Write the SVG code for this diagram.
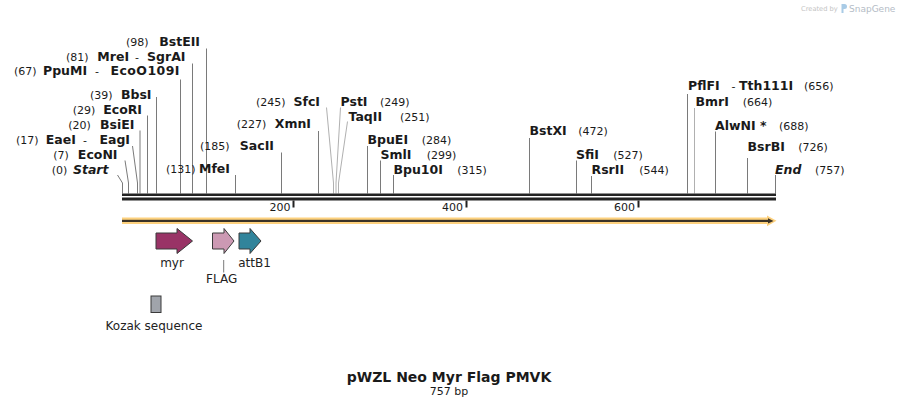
<svg xmlns="http://www.w3.org/2000/svg" width="898" height="407" viewBox="0 0 898 407">
<style>
text{font-family:"DejaVu Sans",Verdana,sans-serif;fill:#1a1a1a}
.num{font-size:11px}
.nm{font-size:12.5px;font-weight:bold}
.it{font-style:italic}
.e{text-anchor:end}
.c{text-anchor:middle}
.ld{stroke:#7a7a7a;stroke-width:1;fill:none}
.ll{stroke:#b0b0b0;stroke-width:1;fill:none}
.feat{stroke:#3a3a3a;stroke-width:1}
.fl{font-size:12px;fill:#222}
</style>
<rect width="898" height="407" fill="#ffffff"/>

<g id="watermark">
<text x="801" y="11" style="font-size:6.7px;fill:#c4c4c4">Created by</text>
<path d="M841.5 4 h3 a2.5 2.5 0 0 1 0 5 h-1 v4 h-2 z" fill="#a9cbe6"/>
<text x="849" y="11.5" style="font-size:9px;fill:#b4bcc6">SnapGene</text>
</g>

<g id="connectors">
<path class="ld" d="M117.5 175 L122.5 183 V193.5"/>
<path class="ld" d="M125 160.5 L128.5 183 V193.5"/>
<path class="ld" d="M132.5 146 L137.5 183 V193.5"/>
<path class="ld" d="M140 130.5 V193.5"/>
<path class="ld" d="M147.5 115.5 V193.5"/>
<path class="ld" d="M156.5 97 V193.5"/>
<path class="ld" d="M180.5 79.5 V193.5"/>
<path class="ld" d="M192.5 63.5 V193.5"/>
<path class="ld" d="M206.5 48.5 V193.5"/>
<path class="ld" d="M235.5 175 V193.5"/>
<path class="ld" d="M281.5 152.5 V193.5"/>
<path class="ld" d="M318.5 131 V193.5"/>
<path class="ll" d="M326.5 107.5 L333.5 183 V193.5"/>
<path class="ll" d="M340.5 107.5 L336 183 V193.5"/>
<path class="ll" d="M347.5 121.5 L338.5 183 V193.5"/>
<path class="ld" d="M367.5 146 V193.5"/>
<path class="ld" d="M380.5 160.5 V193.5"/>
<path class="ld" d="M393.5 175 V193.5"/>
<path class="ld" d="M529.5 138 V193.5"/>
<path class="ld" d="M576.5 160.5 V193.5"/>
<path class="ld" d="M591.5 176 V193.5"/>
<path class="ld" d="M687.5 94 V193.5"/>
<path class="ll" d="M694.5 108 V193.5"/>
<path class="ld" d="M715.5 131.5 V193.5"/>
<path class="ld" d="M747.5 158 V193.5"/>
<path class="ld" d="M775.5 175 V193.5"/>
<path class="ld" d="M223.7 260 V272.5"/>
</g>

<g id="backbone">
<rect x="122" y="193.5" width="654" height="2.5" fill="#222"/>
<rect x="122" y="197.5" width="654" height="3" fill="#222"/>
<rect x="292.5" y="200.5" width="2" height="7" fill="#222"/>
<rect x="465.5" y="200.5" width="2" height="7" fill="#222"/>
<rect x="637.5" y="200.5" width="2" height="7" fill="#222"/>
<text class="num e" x="290.5" y="210.5">200</text>
<text class="num e" x="463" y="210.5">400</text>
<text class="num e" x="635" y="210.5">600</text>
</g>

<g id="orf">
<rect x="122" y="217.5" width="648" height="6.5" fill="#fdd17e"/>
<polygon points="767,215.5 776.5,220.8 767,226.3" fill="#fdd17e"/>
<rect x="122" y="219.8" width="648" height="2.2" fill="#3a3226"/>
<polygon points="768,218.3 773.5,220.9 768,223.5" fill="#3a3226"/>
</g>

<g id="enzymes">
<g id="e-start"><text class="num" x="51.7" y="173.5">(0)</text><text class="nm it e" x="108.5" y="173.5">Start</text></g>
<g id="e-econi"><text class="num" x="53.3" y="159">(7)</text><text class="nm e" x="117.5" y="159">EcoNI</text></g>
<g id="e-eaei"><text class="num" x="16" y="144">(17)</text><text class="nm" x="45.7" y="144">EaeI</text><text class="num" x="83" y="144">-</text><text class="nm e" x="130" y="144">EagI</text></g>
<g id="e-bsiei"><text class="num" x="68.3" y="128.5">(20)</text><text class="nm e" x="134.5" y="128.5">BsiEI</text></g>
<g id="e-ecori"><text class="num" x="72.7" y="113.5">(29)</text><text class="nm e" x="142" y="113.5">EcoRI</text></g>
<g id="e-bbsi"><text class="num" x="90" y="98.5">(39)</text><text class="nm e" x="151.5" y="98.5">BbsI</text></g>
<g id="e-ppumi"><text class="num" x="14" y="75">(67)</text><text class="nm" x="43" y="75">PpuMI</text><text class="num" x="95" y="75">-</text><text class="nm e" x="179.5" y="75" textLength="69" lengthAdjust="spacing">EcoO109I</text></g>
<g id="e-mrei"><text class="num" x="66" y="60.5">(81)</text><text class="nm" x="97.3" y="60.5">MreI</text><text class="num" x="135" y="60.5">-</text><text class="nm e" x="185.5" y="60.5">SgrAI</text></g>
<g id="e-bsteii"><text class="num" x="126" y="45.5">(98)</text><text class="nm e" x="200" y="45.5">BstEII</text></g>
<g id="e-mfei"><text class="num" x="166" y="173">(131)</text><text class="nm e" x="230" y="173">MfeI</text></g>
<g id="e-sacii"><text class="num" x="200" y="150">(185)</text><text class="nm e" x="274" y="150">SacII</text></g>
<g id="e-xmni"><text class="num" x="236.7" y="128">(227)</text><text class="nm e" x="311" y="128">XmnI</text></g>
<g id="e-sfci"><text class="num" x="256" y="106">(245)</text><text class="nm e" x="320" y="106">SfcI</text></g>
<g id="e-psti"><text class="nm" x="340.5" y="106">PstI</text><text class="num" x="380" y="106">(249)</text></g>
<g id="e-taqii"><text class="nm" x="348.5" y="120.5">TaqII</text><text class="num" x="400" y="120.5">(251)</text></g>
<g id="e-bpuei"><text class="nm" x="367.5" y="143.5">BpuEI</text><text class="num" x="421.7" y="143.5">(284)</text></g>
<g id="e-smli"><text class="nm" x="380.5" y="158.5">SmlI</text><text class="num" x="426.7" y="158.5">(299)</text></g>
<g id="e-bpu10i"><text class="nm" x="393.5" y="173.5">Bpu10I</text><text class="num" x="457.3" y="173.5">(315)</text></g>
<g id="e-bstxi"><text class="nm" x="529.5" y="135">BstXI</text><text class="num" x="578.3" y="135">(472)</text></g>
<g id="e-sfii"><text class="nm" x="576" y="158.5">SfiI</text><text class="num" x="613.3" y="158.5">(527)</text></g>
<g id="e-rsrii"><text class="nm" x="591.5" y="173.5">RsrII</text><text class="num" x="639.3" y="173.5">(544)</text></g>
<g id="e-pflfi"><text class="nm" x="688" y="90">PflFI</text><text class="num" x="731.5" y="90">-</text><text class="nm" x="739" y="90">Tth111I</text><text class="num" x="804" y="90">(656)</text></g>
<g id="e-bmri"><text class="nm" x="695.5" y="106">BmrI</text><text class="num" x="742.7" y="106">(664)</text></g>
<g id="e-alwni"><text class="nm" x="715" y="130">AlwNI *</text><text class="num" x="779" y="130">(688)</text></g>
<g id="e-bsrbi"><text class="nm" x="747.5" y="151">BsrBI</text><text class="num" x="798.3" y="151">(726)</text></g>
<g id="e-end"><text class="nm it" x="775" y="173.5">End</text><text class="num" x="815" y="173.5">(757)</text></g>
</g>

<g id="f-myr">
<polygon class="feat" points="156,233 177,233 177,228.5 192.5,241 177,253.5 177,249 156,249" fill="#993366"/>
<text class="fl c" x="172" y="267">myr</text>
</g>
<g id="f-flag">
<polygon class="feat" points="212.5,233 224,233 224,228.5 234,241 224,253.5 224,249 212.5,249" fill="#cc99b3"/>
<text class="fl c" x="221.7" y="282.7">FLAG</text>
</g>
<g id="f-attb1">
<polygon class="feat" points="239,233 250,233 250,228.5 261,241 250,253.5 250,249 239,249" fill="#31849b"/>
<text class="fl c" x="254.5" y="267">attB1</text>
</g>
<g id="f-kozak">
<rect class="feat" x="151" y="296" width="10" height="16.5" fill="#a0a4ab"/>
<text class="fl c" x="154" y="330">Kozak sequence</text>
</g>

<g id="title">
<text class="c" x="449" y="382" style="font-size:14px;font-weight:bold">pWZL Neo Myr Flag PMVK</text>
<text class="c" x="449" y="395" style="font-size:11px">757 bp</text>
</g>
</svg>
